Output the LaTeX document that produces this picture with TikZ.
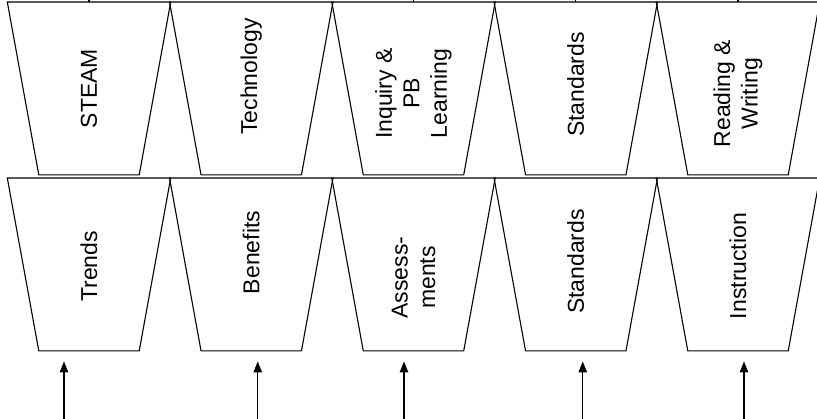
\documentclass[tikz,border=0pt]{standalone}
\usepackage{fontspec}
\setmainfont{Liberation Sans}
\usetikzlibrary{arrows.meta, positioning}
\tikzset{>={Triangle[length=11pt,width=8.5pt]}, x=1pt, y=1pt}

\begin{document}
\begin{tikzpicture}[funnel_area/.style={rectangle, minimum width=163pt, minimum height=172.5pt, inner sep=0pt},
funnel_line/.style={draw=black, line width=1.1pt, line join=miter},
label_text/.style={rotate=90, align=center, font=\fontsize{23}{27.5}\selectfont},
feed/.style={->, line width=1.3pt, shorten >=10.5pt}]
    \useasboundingbox (0,0) rectangle (817,419);
    \coordinate (base) at (0,0);

    % upper row of funnels
    \foreach \i/\dy/\txt in {1/0/STEAM, 2/12/Technology, 3/-5/{Inquiry \&\\PB\\Learning}, 4/4/Standards, 5/-5/{Reading \&\\Writing}} {
        \node[funnel_area] (topic\i) at ({89+162.25*(\i-1)}, 330.5) {};
        \draw[funnel_line] (topic\i.north west) -- (topic\i.north east)
            -- ([xshift=-31.5pt]topic\i.south east) -- ([xshift=31.5pt]topic\i.south west) -- cycle;
        \node[label_text] (topictxt\i) at ([yshift=\dy pt]topic\i.center) {\txt};
    }

    % lower row of funnels
    \foreach \i/\dy/\txt in {1/-2/Trends, 2/12/Benefits, 3/-13/{Assess-\\ments}, 4/3/Standards, 5/-1.5/Instruction} {
        \node[funnel_area] (aspect\i) at ({89+162.25*(\i-1)}, 154.5) {};
        \draw[funnel_line] (aspect\i.north west) -- (aspect\i.north east)
            -- ([xshift=-31.5pt]aspect\i.south east) -- ([xshift=31.5pt]aspect\i.south west) -- cycle;
        \node[label_text] (aspecttxt\i) at ([yshift=\dy pt]aspect\i.center) {\txt};
    }

    % inputs from below
    \foreach \i/\dx in {1/-25, 2/6.5, 3/-9.5, 4/7, 5/6} {
        \coordinate (src\i) at ([xshift=\dx pt]aspect\i.south);
        \draw[feed] (src\i |- base) -- (src\i);
    }

    % lines leaving at the top
    \foreach \i in {1,3,4,5}
        \draw[line width=1.1pt] (topic\i.north) -- ++(0,6);
\end{tikzpicture}
\end{document}
